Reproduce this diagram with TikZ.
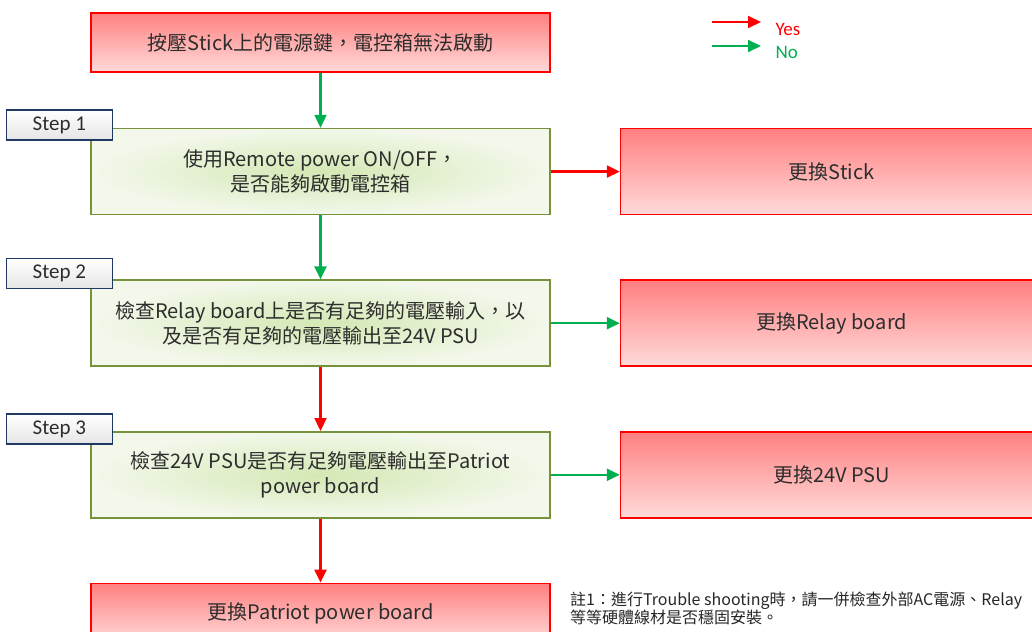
\documentclass[tikz,border=0pt]{standalone}
\usepackage{fontspec}
\setmainfont{Noto Sans CJK TC}
\newfontfamily\calfont{Carlito}
\usetikzlibrary{arrows.meta,positioning}
\definecolor{boxred}{RGB}{255,0,0}
\definecolor{redtop}{RGB}{255,128,128}
\definecolor{redbot}{RGB}{255,218,218}
\definecolor{greenline}{RGB}{118,146,60}
\definecolor{greenin}{RGB}{212,232,180}
\definecolor{greenout}{RGB}{243,248,235}
\definecolor{stepline}{RGB}{31,56,100}
\definecolor{nogreen}{RGB}{0,176,80}
\definecolor{txt}{RGB}{45,45,45}

\begin{document}
\begin{tikzpicture}[x=1pt, y=-1pt, node distance=64pt and 69pt,
  every node/.style={font=\fontsize{20}{25}\selectfont, text=txt},
  redbox/.style={draw=boxred, line width=1.6pt, top color=redtop, bottom color=redbot, align=center, minimum width=459pt, minimum height=86pt},
  greenbox/.style={draw=greenline, line width=1.6pt, inner color=greenin, outer color=greenout, align=center, minimum width=459pt, minimum height=86pt},
  steplabel/.style={draw=stepline, line width=1.7pt, top color=white, bottom color=black!10, minimum width=106pt, minimum height=30pt, anchor=south east, font=\calfont\fontsize{21}{24}\selectfont},
  yesarr/.style={draw=boxred, line width=2.2pt, -{Triangle[length=13pt,width=12pt]}},
  noarr/.style={draw=nogreen, line width=2.2pt, -{Triangle[length=13pt,width=12pt]}}]
\useasboundingbox (0,0) rectangle (1032,631);
\clip (0,0) rectangle (1032,631);
\node[redbox, minimum height=59pt] (start) at (320.5,42.5) {按壓Stick上的電源鍵，電控箱無法啟動};
\node[greenbox, below=55pt of start] (check1) {使用Remote power ON/OFF，\\是否能夠啟動電控箱};
\node[greenbox, below=of check1] (check2) {檢查Relay board上是否有足夠的電壓輸入，以\\及是否有足夠的電壓輸出至24V PSU};
\node[greenbox, below=of check2] (check3) {檢查24V PSU是否有足夠電壓輸出至Patriot\\power board};
\node[redbox, minimum height=59pt, below=of check3] (patriot) {更換Patriot power board};
\node[redbox, minimum width=422pt, right=of check1] (stick) {更換Stick};
\node[redbox, minimum width=422pt, right=of check2] (relay) {更換Relay board};
\node[redbox, minimum width=422pt, right=of check3] (psu) {更換24V PSU};
\node[steplabel] (step1) at ([xshift=23pt,yshift=-13pt]check1.north west) {Step 1};
\node[steplabel] (step2) at ([xshift=23pt,yshift=-10pt]check2.north west) {Step 2};
\node[steplabel] (step3) at ([xshift=23pt,yshift=-14pt]check3.north west) {Step 3};
\draw[noarr] (start) -- (check1);
\draw[yesarr] (check1) -- (stick);
\draw[noarr] (check1) -- (check2);
\draw[noarr] (check2) -- (relay);
\draw[yesarr] (check2) -- (check3);
\draw[noarr] (check3) -- (psu);
\draw[yesarr] (check3) -- (patriot);
% legend
\coordinate (yesfrom) at (712,22);
\coordinate (yesto) at (761,22);
\coordinate (nofrom) at (712,46);
\coordinate (noto) at (761,46);
\node[anchor=west, text=boxred, font=\calfont\fontsize{19}{20}\selectfont] (yes) at (772,29) {Yes};
\node[anchor=west, text=nogreen, font=\calfont\fontsize{19}{20}\selectfont] (no) at (772,52) {No};
\draw[yesarr, line width=2pt] (yesfrom) -- (yesto);
\draw[noarr, line width=2pt] (nofrom) -- (noto);
% note
\node[anchor=north west, align=left, inner sep=0pt, font=\fontsize{16}{18}\selectfont, text=black!85] (note) at (570,592) {註1：進行Trouble shooting時，請一併檢查外部AC電源、Relay\\等等硬體線材是否穩固安裝。};
\end{tikzpicture}
\end{document}
